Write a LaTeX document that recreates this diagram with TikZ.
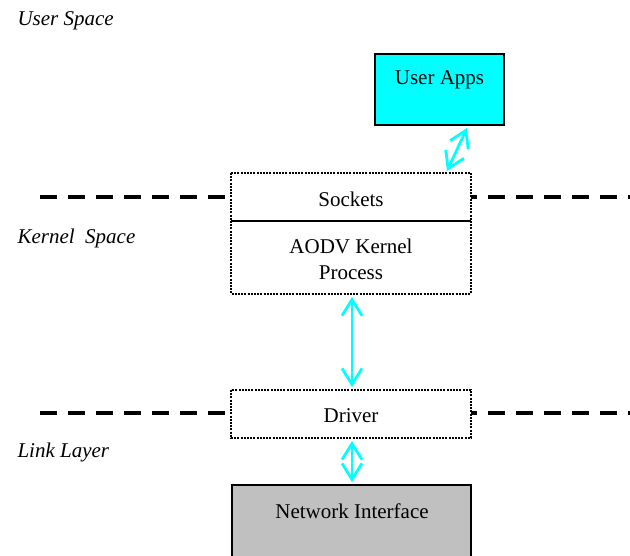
\documentclass[tikz,border=0pt]{standalone}
\usepackage{fontspec}
\setmainfont{Liberation Serif}
\usetikzlibrary{arrows.meta}
\definecolor{aqua}{RGB}{0,255,255}
\definecolor{silvergray}{RGB}{192,192,192}
\begin{document}
\begin{tikzpicture}[x=1pt,y=-1pt,
  layerline/.style={line width=4pt,dash pattern=on 17pt off 11pt},
  dotbox/.style={draw,line width=2.3pt,dash pattern=on 2pt off 1.2pt,fill=white},
  solidbox/.style={draw,line width=1.5pt},
  lbl/.style={font=\fontsize{21}{25}\selectfont},
  spacelbl/.style={font=\fontsize{21}{25}\selectfont\itshape,anchor=west},
  link/.style={aqua,line width=2.8pt,{Straight Barb[length=16pt,width=20pt,line width=2.8pt]}-{Straight Barb[length=16pt,width=20pt,line width=2.8pt]}}]
\useasboundingbox (0,0) rectangle (630,556);
% layer boundaries (boxes are drawn over them)
\draw[layerline] (40,197) -- (630,197);
\draw[layerline] (40,413) -- (630,413);
% layer names
\node[spacelbl] (us) at (14,20.5) {User Space};
\node[spacelbl] (ks) at (14,238.5) {Kernel\ \ Space};
\node[spacelbl] (ll) at (14,452.5) {Link Layer};
% user application
\path[solidbox,fill=aqua] (375,54) rectangle (504,125);
\node[lbl] (apps) at (439.5,79.5) {User Apps};
\coordinate (appsb) at (467,128);
% kernel boxes
\path[dotbox] (231,173) rectangle (471,294);
\draw[line width=1.5pt] (231,221) -- (471,221);
\node[lbl] (sock) at (351,199.5) {Sockets};
\node[lbl,align=center] (aodv) at (351,259) {AODV Kernel\\[1pt]Process};
\coordinate (sockt) at (447,171);
\coordinate (aodvb) at (352,297);
% driver
\path[dotbox] (231,390) rectangle (471,438);
\node[lbl] (drv) at (351,415.5) {Driver};
\coordinate (drvt) at (352,387);
\coordinate (drvb) at (352,441);
% network interface
\path[solidbox,fill=silvergray] (232,485) rectangle (471,560);
\node[lbl] (nic) at (352,511.5) {Network Interface};
\coordinate (nict) at (352,482);
% connectors
\draw[link] (appsb) -- (sockt);
\draw[link] (aodvb) -- (drvt);
\draw[link] (drvb) -- (nict);
\end{tikzpicture}
\end{document}
